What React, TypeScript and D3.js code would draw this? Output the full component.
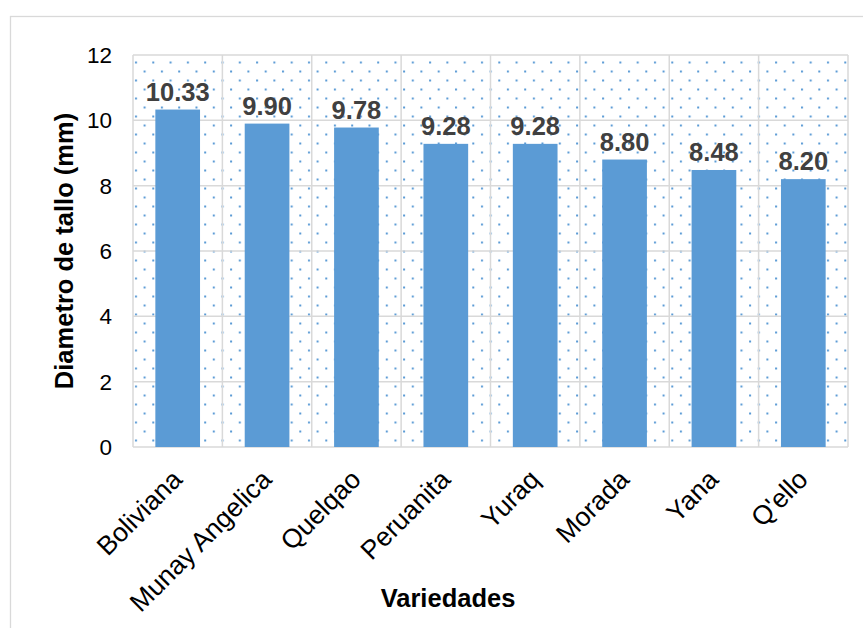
import * as d3 from "d3";

const categories = ["Boliviana", "Munay Angelica", "Quelqao", "Peruanita", "Yuraq", "Morada", "Yana", "Q'ello"];
const values = [10.33, 9.9, 9.78, 9.28, 9.28, 8.8, 8.48, 8.2];
const yTicks = [0, 2, 4, 6, 8, 10, 12];

const W = 863;
const H = 628;
const plot = { left: 133, right: 848, top: 55, bottom: 447 };

export default function App() {
  const x = d3
    .scaleBand<string>()
    .domain(categories)
    .range([plot.left, plot.right])
    .paddingInner(0)
    .paddingOuter(0);
  const y = d3.scaleLinear().domain([0, 12]).range([plot.bottom, plot.top]);
  const barW = x.bandwidth() * 0.5;
  const grid = "#D9D9D9";
  const font = "'Liberation Sans', Arial, sans-serif";

  return (
    <svg width={W} height={H} style={{ position: "absolute", left: 0, top: 0 }} fontFamily={font}>
      <defs>
        <pattern id="dots" patternUnits="userSpaceOnUse" x={plot.left} y={plot.top} width={17.3} height={18}>
          <rect x={2} y={6.5} width={2} height={2} fill="#5B9BD5" />
          <rect x={10.6} y={15.5} width={2} height={2} fill="#5B9BD5" />
        </pattern>
      </defs>
      <rect x={0} y={0} width={W} height={H} fill="#fff" />
      {/* chart frame */}
      <rect x={10.5} y={16.5} width={W + 10} height={H + 10} fill="none" stroke={grid} strokeWidth={1.3} />

      {/* plot background pattern */}
      <rect
        x={plot.left}
        y={plot.top}
        width={plot.right - plot.left}
        height={plot.bottom - plot.top}
        fill="url(#dots)"
      />

      {/* horizontal grid */}
      {yTicks.map((t) => (
        <line key={t} x1={plot.left} x2={plot.right} y1={y(t)} y2={y(t)} stroke={grid} strokeWidth={1.5} />
      ))}
      {/* vertical grid */}
      {categories.map((c) => (
        <line key={c} x1={x(c)} x2={x(c)} y1={plot.top} y2={plot.bottom} stroke={grid} strokeWidth={1.5} />
      ))}
      <line x1={plot.right} x2={plot.right} y1={plot.top} y2={plot.bottom} stroke={grid} strokeWidth={1.5} />

      {/* bars */}
      {categories.map((c, i) => (
        <rect
          key={c}
          x={(x(c) as number) + (x.bandwidth() - barW) / 2}
          y={y(values[i])}
          width={barW}
          height={plot.bottom - y(values[i])}
          fill="#5B9BD5"
        />
      ))}

      {/* data labels */}
      {categories.map((c, i) => (
        <text
          key={c}
          x={(x(c) as number) + x.bandwidth() / 2}
          y={y(values[i]) - 9}
          textAnchor="middle"
          fontSize={25.5}
          fontWeight="bold"
          fill="#404040"
        >
          {values[i].toFixed(2)}
        </text>
      ))}

      {/* y ticks */}
      {yTicks.map((t) => (
        <text key={t} x={112} y={y(t) + 8} textAnchor="end" fontSize={22.5} fill="#000">
          {t}
        </text>
      ))}

      {/* x labels */}
      {categories.map((c) => {
        const cx = (x(c) as number) + x.bandwidth() / 2 + 6;
        const cy = 481;
        return (
          <text
            key={c}
            transform={`translate(${cx},${cy}) rotate(-45)`}
            textAnchor="end"
            fontSize={26.5}
            fill="#000"
          >
            {c}
          </text>
        );
      })}

      {/* axis titles */}
      <text x={448} y={607} textAnchor="middle" fontSize={25.5} fontWeight="bold" fill="#000">
        Variedades
      </text>
      <text
        transform={`translate(73,${(plot.top + plot.bottom) / 2}) rotate(-90)`}
        textAnchor="middle"
        fontSize={25.5}
        fontWeight="bold"
        fill="#000"
      >
        Diametro de tallo (mm)
      </text>
    </svg>
  );
}
